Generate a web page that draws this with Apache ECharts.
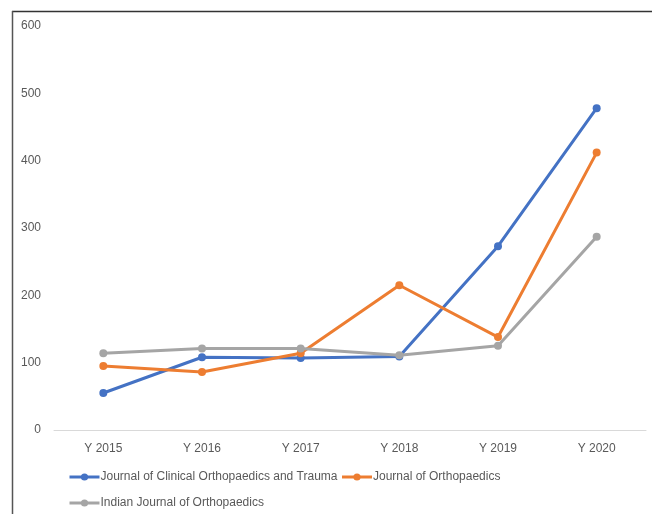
<!DOCTYPE html>
<html><head><meta charset="utf-8">
<script src="https://cdn.jsdelivr.net/npm/echarts@6/dist/echarts.min.js"></script>
<style>html,body{margin:0;padding:0;background:#fff}#c{width:652px;height:514px}</style>
</head><body><div id="c"></div>
<script>
const categories = ['Y 2015','Y 2016','Y 2017','Y 2018','Y 2019','Y 2020'];
const seriesNames = ['Journal of Clinical Orthopaedics and Trauma','Journal of Orthopaedics','Indian Journal of Orthopaedics'];
const jcot = [55, 108, 107, 109, 273, 478];
const jortho = [95, 86, 114, 215, 138, 412];
const ijo = [114, 121, 121, 111, 125, 287];
const colors = ['#4472C4','#ED7D31','#A5A5A5'];
const FONT = "'Liberation Sans', Arial, sans-serif";

const chart = echarts.init(document.getElementById('c'));
const mk = (name, data, color, z) => ({
  name, type: 'line', data, z,
  symbol: 'circle', symbolSize: 8,
  lineStyle: { width: 3, color }, itemStyle: { color },
  emphasis: { disabled: true }
});
const legendText = { color: '#595959', fontSize: 12, fontFamily: FONT, padding: [0,0,0,-4] };
const legendBase = { itemWidth: 30, itemHeight: 9, itemGap: 3, textStyle: legendText, lineStyle: { width: 3 } };
chart.setOption({
  animation: false,
  textStyle: { fontFamily: FONT },
  grid: { left: 54, right: 6, top: 26, bottom: 84 },
  xAxis: {
    type: 'category', data: categories, boundaryGap: true,
    axisLine: { lineStyle: { color: '#D9D9D9', width: 1 } },
    axisTick: { show: false },
    axisLabel: { color: '#595959', fontSize: 12, margin: 13, fontFamily: FONT }
  },
  yAxis: {
    type: 'value', min: 0, max: 600, interval: 100,
    axisLine: { show: false }, axisTick: { show: false },
    splitLine: { show: false },
    axisLabel: { color: '#595959', fontSize: 12, margin: 13, fontFamily: FONT }
  },
  legend: [
    Object.assign({ data: [seriesNames[0], seriesNames[1]], left: 63, top: 466 }, legendBase),
    Object.assign({ data: [seriesNames[2]], left: 63, top: 492 }, legendBase)
  ],
  graphic: [
    { type: 'line', shape: { x1: 12, y1: 11.5, x2: 652, y2: 11.5 }, style: { stroke: '#333', lineWidth: 1.5 } },
    { type: 'line', shape: { x1: 12.5, y1: 11, x2: 12.5, y2: 514 }, style: { stroke: '#555', lineWidth: 1.5 } }
  ],
  series: [
    mk(seriesNames[0], jcot, colors[0], 1),
    mk(seriesNames[1], jortho, colors[1], 2),
    mk(seriesNames[2], ijo, colors[2], 3)
  ]
});
</script></body></html>
